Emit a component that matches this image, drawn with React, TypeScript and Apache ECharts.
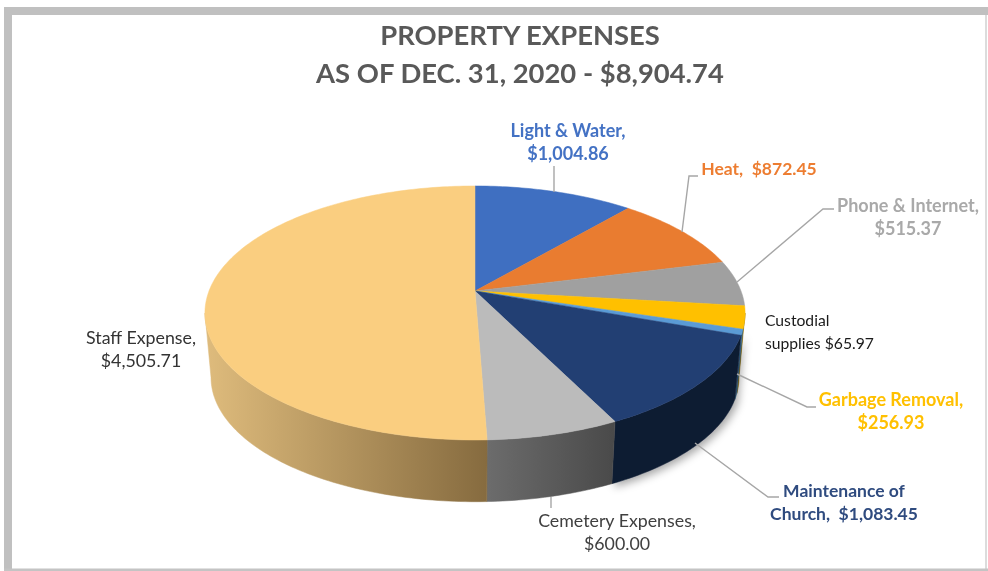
import React, { useEffect, useRef } from "react";
import * as echarts from "echarts";

const categories = ["Light & Water", "Heat", "Phone & Internet", "Garbage Removal", "Custodial supplies", "Maintenance of Church", "Cemetery Expenses", "Staff Expense"];
const amounts = [1004.86, 872.45, 515.37, 256.93, 65.97, 1083.45, 600.0, 4505.71];
const labelTexts = [
  "Light & Water,\n$1,004.86",
  "Heat,  $872.45",
  "Phone & Internet,\n$515.37",
  "Garbage Removal,\n$256.93",
  "Custodial\nsupplies $65.97",
  "Maintenance of\nChurch,  $1,083.45",
  "Cemetery Expenses,\n$600.00",
  "Staff Expense,\n$4,505.71",
];
const titleLines = ["PROPERTY EXPENSES", "AS OF DEC. 31, 2020 - $8,904.74"];

const topColors = ["#3F6FC1", "#E97C30", "#A0A0A0", "#FFC000", "#5B9BD5", "#223F73", "#BBBBBB", "#FACE80"];
const sideColors: any[] = [
  "#2A4A80", "#9A5220", "#6E6E6E", "#8F6C00", "#3A6A90", "#0E1C33",
  { type: "linear", x: 487, y: 0, x2: 613, y2: 0, global: true, colorStops: [{ offset: 0, color: "#6C6C6C" }, { offset: 1, color: "#4A4A4A" }] },
  { type: "linear", x: 207, y: 0, x2: 487, y2: 0, global: true, colorStops: [{ offset: 0, color: "#DEBB7C" }, { offset: 1, color: "#866B3F" }] },
];
const labelPlacement: any[] = [
  { x: 568, y: 141.5, align: "center", fill: "#4472C4", weight: "bold", size: 18 },
  { x: 759, y: 168, align: "center", fill: "#ED7D31", weight: "bold", size: 17.5 },
  { x: 908, y: 216.5, align: "center", fill: "#A9A9A9", weight: "bold", size: 18 },
  { x: 891, y: 410.5, align: "center", fill: "#FFC000", weight: "bold", size: 18 },
  { x: 765, y: 331, align: "left", fill: "#1A1A1A", weight: "normal", size: 15.7 },
  { x: 844, y: 502, align: "center", fill: "#2F4B7F", weight: "bold", size: 17.5 },
  { x: 617, y: 531.5, align: "center", fill: "#404040", weight: "normal", size: 17.8 },
  { x: 141, y: 348.5, align: "center", fill: "#333333", weight: "normal", size: 17.8 },
];
const leaderLines: number[][][] = [
  [[554, 192], [554, 166]],
  [[682, 232], [689, 176], [698, 176]],
  [[737, 282], [823, 209], [834, 209]],
  [[737, 374], [807, 407], [816, 407]],
  [[], []],
  [[695, 443], [768, 497], [779, 497]],
  [[551, 497], [551, 508]],
  [[], []],
];

// Perspective projection of the pie disc
const K = 0.173;
const TOP = { cx: 475, cy: 291, a: 123.2, b: 266 };
const BOTTOM = { cx: 475, cy: 356, a: 120.5, b: 260 };
const HORIZON = [100, 260]; // the side wall is only visible between these disc angles
const total = amounts.reduce((s, v) => s + v, 0);
const starts: number[] = [];
amounts.reduce((s, v, i) => { starts[i] = s; return s + v; }, 0);

function project(p: typeof TOP, deg: number) {
  const t = (deg * Math.PI) / 180;
  const u = Math.sin(t);
  const v = -Math.cos(t);
  const w = 1 - K * v;
  return [p.cx + (p.b * u) / w, p.cy + (p.a * v) / w];
}
function arc(p: typeof TOP, a0: number, a1: number) {
  const pts: number[][] = [];
  const n = Math.max(2, Math.ceil(Math.abs(a1 - a0)));
  for (let i = 0; i <= n; i++) pts.push(project(p, a0 + ((a1 - a0) * i) / n));
  return pts;
}
const angleRange = (i: number) => [(starts[i] / total) * 360, ((starts[i] + amounts[i]) / total) * 360];
const seriesData = amounts.map((v, i) => [v, i]);

export default function App() {
  const ref = useRef<HTMLDivElement>(null);
  useEffect(() => {
    const chart = echarts.init(ref.current!, null, { renderer: "svg" });
    chart.setOption({
      animation: false,
      backgroundColor: "#FFFFFF",
      title: {
        text: titleLines.join("\n"),
        left: 515,
        top: 10,
        textAlign: "center",
        textStyle: { fontFamily: "Lato", fontWeight: "bold", fontSize: 27.4, lineHeight: 38, color: "#595959" },
      },
      graphic: [
        { type: "rect", shape: { x: 4, y: 7, width: 984, height: 8 }, style: { fill: "#C0C0C0" } },
        { type: "rect", shape: { x: 4, y: 7, width: 8, height: 564 }, style: { fill: "#C0C0C0" } },
        { type: "rect", shape: { x: 985, y: 15, width: 2, height: 556 }, style: { fill: "#DCDCDC" } },
        { type: "rect", shape: { x: 4, y: 568.5, width: 984, height: 2.5 }, style: { fill: "#C4C4C4" } },
      ],
      series: [
        {
          type: "custom",
          name: "sides",
          coordinateSystem: "none",
          data: seriesData,
          z: 2,
          silent: true,
          renderItem: (_: any, api: any) => {
            const i = api.value(1);
            const [r0, r1] = angleRange(i);
            const a0 = Math.max(r0, HORIZON[0]);
            const a1 = Math.min(r1, HORIZON[1]);
            if (a1 <= a0) return { type: "group", children: [] };
            const pts = [...arc(TOP, a0, a1), ...arc(BOTTOM, a1, a0)];
            const style: any = { fill: sideColors[i], stroke: sideColors[i], lineWidth: 0.5 };
            if (i === 5) {
              style.shadowBlur = 9;
              style.shadowColor = "rgba(0,0,0,0.35)";
              style.shadowOffsetX = 3;
              style.shadowOffsetY = 3;
            }
            return { type: "polygon", shape: { points: pts }, style };
          },
        },
        {
          type: "custom",
          name: "tops",
          coordinateSystem: "none",
          data: seriesData,
          z: 3,
          silent: true,
          renderItem: (_: any, api: any) => {
            const i = api.value(1);
            const [a0, a1] = angleRange(i);
            const pts = [[TOP.cx, TOP.cy], ...arc(TOP, a0, a1)];
            return { type: "polygon", shape: { points: pts }, style: { fill: topColors[i], stroke: topColors[i], lineWidth: 0.5 } };
          },
        },
        {
          type: "custom",
          name: "labels",
          coordinateSystem: "none",
          data: seriesData,
          z: 4,
          silent: true,
          renderItem: (_: any, api: any) => {
            const i = api.value(1);
            const p = labelPlacement[i];
            const children: any[] = [];
            if (leaderLines[i][0].length) {
              children.push({ type: "polyline", shape: { points: leaderLines[i] }, style: { fill: "none", stroke: "#A6A6A6", lineWidth: 1.4 } });
            }
            children.push({
              type: "text",
              style: {
                x: p.x,
                y: p.y,
                text: labelTexts[i],
                align: p.align,
                verticalAlign: "middle",
                lineHeight: 23,
                fill: p.fill,
                font: `${p.weight} ${p.size}px Lato`,
              },
            });
            return { type: "group", children };
          },
        },
      ],
    });
    return () => chart.dispose();
  }, []);
  return <div ref={ref} aria-label={categories.join(", ")} style={{ position: "absolute", left: 0, top: 0, width: 988, height: 571, filter: "blur(0.5px)" }} />;
}
